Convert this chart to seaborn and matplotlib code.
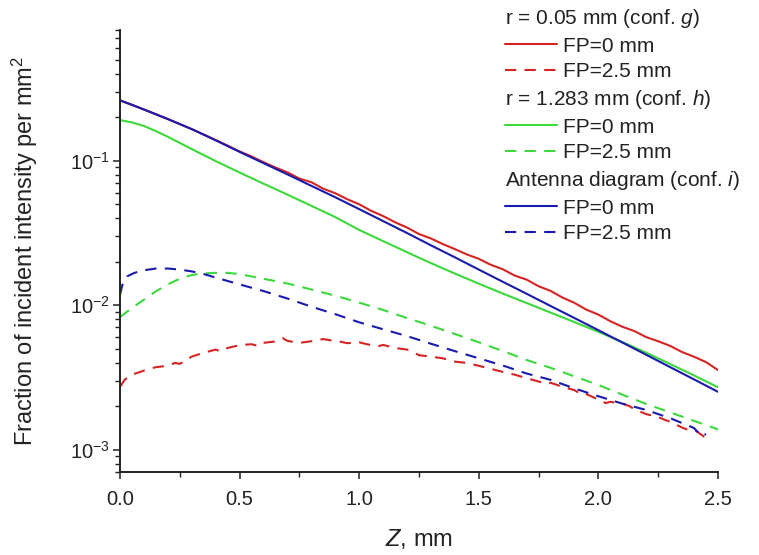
import matplotlib
matplotlib.use("Agg")
import matplotlib.pyplot as plt
from matplotlib.lines import Line2D
from matplotlib.ticker import MultipleLocator, LogLocator, NullFormatter
import numpy as np
import pandas as pd
import seaborn as sns

# ---- data: fraction of incident intensity per mm^2 vs depth Z (mm) ----
z_smooth = [0.0, 0.05, 0.1, 0.15, 0.2, 0.3, 0.4, 0.5, 0.6, 0.7, 0.8, 0.9,
            1.0, 1.1, 1.2, 1.3, 1.4, 1.5, 1.6, 1.7, 1.8, 1.9, 2.0, 2.1, 2.2,
            2.3, 2.4, 2.5]

# antenna diagram (conf. i), FP = 0 mm
antenna_fp0 = [0.261, 0.2428, 0.2255, 0.2090, 0.1936, 0.165, 0.138, 0.1148,
               0.0959, 0.0802, 0.0668, 0.0557, 0.0461, 0.0381, 0.0315, 0.0259,
               0.0214, 0.0176, 0.0145, 0.01197, 0.00986, 0.00813, 0.0067,
               0.00551, 0.00453, 0.00372, 0.00306, 0.00251]

# r = 1.283 mm (conf. h), FP = 0 mm
wide_fp0 = [0.1905, 0.1835, 0.1735, 0.1598, 0.1460, 0.120, 0.0991, 0.0826,
            0.0692, 0.0581, 0.0486, 0.0406, 0.0331, 0.0277, 0.0232, 0.0195,
            0.01652, 0.01406, 0.01202, 0.01033, 0.00887, 0.00762, 0.00653,
            0.00555, 0.00468, 0.00391, 0.00326, 0.0027]

# r = 0.05 mm (conf. g), FP = 0 mm
z_narrow_fp0 = [0.00, 0.05, 0.10, 0.15, 0.20, 0.25, 0.30, 0.35, 0.40, 0.45,
                0.50, 0.55, 0.60, 0.65, 0.70, 0.75, 0.80, 0.85, 0.90, 0.95,
                1.00, 1.05, 1.10, 1.15, 1.20, 1.25, 1.30, 1.35, 1.40, 1.45,
                1.50, 1.55, 1.60, 1.65, 1.70, 1.75, 1.80, 1.85, 1.90, 1.95,
                2.00, 2.05, 2.10, 2.15, 2.20, 2.25, 2.30, 2.35, 2.40, 2.45,
                2.50]
narrow_fp0 = [0.2606, 0.2427, 0.2254, 0.2089, 0.1936, 0.1786, 0.1648, 0.1514,
              0.1387, 0.1268, 0.1156, 0.1067, 0.0973, 0.0895, 0.0828, 0.0750,
              0.0708, 0.0638, 0.0594, 0.0540, 0.0498, 0.0449, 0.0413, 0.0374,
              0.0344, 0.0310, 0.0289, 0.0264, 0.0244, 0.0224, 0.0209, 0.0190,
              0.0177, 0.0160, 0.0150, 0.0135, 0.01253, 0.01127, 0.01035,
              0.00929, 0.00859, 0.00773, 0.00708, 0.00661, 0.00600, 0.00562,
              0.00522, 0.00473, 0.00439, 0.00403, 0.00355]

# r = 1.283 mm (conf. h), FP = 2.5 mm
z_wide_fp25 = [0.0, 0.05, 0.1, 0.15, 0.2, 0.25, 0.3, 0.35, 0.4, 0.45, 0.5,
               0.6, 0.7, 0.8, 0.9, 1.0, 1.1, 1.2, 1.3, 1.4, 1.5, 1.6, 1.7,
               1.8, 1.9, 2.0, 2.1, 2.2, 2.3, 2.4, 2.5]
wide_fp25 = [0.00826, 0.00955, 0.0109, 0.01245, 0.0139, 0.01524, 0.01614,
             0.01656, 0.01671, 0.01671, 0.01637, 0.0152, 0.0141, 0.01282,
             0.01161, 0.0104, 0.00925, 0.00813, 0.00719, 0.00631, 0.00553,
             0.00481, 0.00417, 0.00368, 0.00321, 0.0028, 0.0024, 0.00207,
             0.00181, 0.00158, 0.00138]

# antenna diagram (conf. i), FP = 2.5 mm
z_antenna_fp25 = [0.0, 0.01, 0.03, 0.06, 0.1, 0.15, 0.2, 0.25, 0.3, 0.35,
                  0.4, 0.5, 0.6, 0.7, 0.8, 0.9, 1.0, 1.1, 1.2, 1.3, 1.4, 1.5,
                  1.6, 1.7, 1.8, 1.9, 2.0, 2.1, 2.2, 2.3, 2.4, 2.43, 2.45]
antenna_fp25 = [0.0118, 0.0138, 0.0158, 0.0167, 0.0174, 0.0179, 0.0179,
                0.0176, 0.0171, 0.0164, 0.0155, 0.0139, 0.0125, 0.0111,
                0.00975, 0.00865, 0.0076, 0.0068, 0.0061, 0.0054, 0.0048,
                0.00428, 0.00382, 0.00336, 0.00304, 0.00265, 0.00234,
                0.00208, 0.00188, 0.00165, 0.00141, 0.00124, 0.00128]

# r = 0.05 mm (conf. g), FP = 2.5 mm
z_narrow_fp25 = [0.00, 0.02, 0.05, 0.10, 0.15, 0.20, 0.23, 0.25, 0.30, 0.35,
                 0.40, 0.42, 0.45, 0.50, 0.55, 0.58, 0.60, 0.65, 0.68, 0.70,
                 0.75, 0.80, 0.85, 0.88, 0.90, 0.95, 1.00, 1.05, 1.08, 1.10,
                 1.15, 1.20, 1.22, 1.25, 1.30, 1.35, 1.40, 1.45, 1.50, 1.55,
                 1.60, 1.65, 1.70, 1.75, 1.78, 1.80, 1.85, 1.90, 1.93, 1.95,
                 2.00, 2.03, 2.05, 2.10, 2.13, 2.15, 2.20, 2.25, 2.28, 2.30,
                 2.35, 2.38, 2.40, 2.45]
narrow_fp25 = [0.00272, 0.00305, 0.00330, 0.00352, 0.00372, 0.00380, 0.00398,
               0.00392, 0.00440, 0.00468, 0.00492, 0.00478, 0.00505, 0.00528,
               0.00536, 0.00520, 0.00548, 0.00560, 0.00590, 0.00565, 0.00548,
               0.00562, 0.00582, 0.00570, 0.00568, 0.00545, 0.00552, 0.00528,
               0.00520, 0.00530, 0.00505, 0.00492, 0.00478, 0.00450, 0.00440,
               0.00428, 0.00406, 0.00398, 0.00380, 0.00362, 0.00345, 0.00330,
               0.00312, 0.00296, 0.00285, 0.00290, 0.00272, 0.00258, 0.00240,
               0.00242, 0.00222, 0.00210, 0.00214, 0.00208, 0.00200, 0.00190,
               0.00176, 0.00168, 0.00160, 0.00156, 0.00142, 0.00136, 0.00138,
               0.00120]

legend_labels = ["r = 0.05 mm (conf. $\\mathit{g}$)", "FP=0 mm", "FP=2.5 mm",
                 "r = 1.283 mm (conf. $\\mathit{h}$)", "FP=0 mm", "FP=2.5 mm",
                 "Antenna diagram (conf. $\\mathit{i}$)", "FP=0 mm", "FP=2.5 mm"]
x_ticks = [0.0, 0.5, 1.0, 1.5, 2.0, 2.5]
y_ticks = [1e-3, 1e-2, 1e-1]

# ---- styling ----
RED, GREEN, BLUE = "#d42424", "#3cd83c", "#1a1aac"
LW = 1.5
DASH = (0, (5.4, 4.0))

sns.set_theme(style="ticks")
plt.rcParams["font.family"] = ["Liberation Sans", "DejaVu Sans"]
plt.rcParams["mathtext.fontset"] = "custom"
plt.rcParams["mathtext.rm"] = "Liberation Sans"
plt.rcParams["mathtext.it"] = "Liberation Sans:italic"
plt.rcParams["mathtext.default"] = "regular"
plt.rcParams["axes.unicode_minus"] = False

fig = plt.figure(figsize=(7.59, 5.55), dpi=100)
ax = fig.add_axes([120 / 759, 1 - 472 / 555, 598 / 759, 442 / 555])

series = [
    (z_narrow_fp0, narrow_fp0, RED, "-"),
    (z_narrow_fp25, narrow_fp25, RED, DASH),
    (z_smooth, wide_fp0, GREEN, "-"),
    (z_wide_fp25, wide_fp25, GREEN, DASH),
    (z_smooth, antenna_fp0, BLUE, "-"),
    (z_antenna_fp25, antenna_fp25, BLUE, DASH),
]
for zs, vals, col, ls in series:
    df = pd.DataFrame({"z": zs, "v": vals})
    sns.lineplot(data=df, x="z", y="v", ax=ax, color=col, linewidth=LW,
                 linestyle=ls, sort=False, estimator=None, legend=False)

ax.set_yscale("log")
ax.set_xlim(0, 2.5)
ax.set_ylim(7e-4, 0.8)
ax.set_xticks(x_ticks)
ax.xaxis.set_minor_locator(MultipleLocator(0.25))
ax.set_yticks(y_ticks)
ax.yaxis.set_minor_locator(LogLocator(base=10, subs=np.arange(2, 10)))
ax.yaxis.set_minor_formatter(NullFormatter())

sns.despine(ax=ax)
for s in ("left", "bottom"):
    ax.spines[s].set_linewidth(1.4)
    ax.spines[s].set_color("#222222")
ax.tick_params(which="major", direction="out", length=5, width=1.1,
               labelsize=14.5, color="#222222", labelcolor="#222222")
ax.tick_params(axis="x", which="major", pad=8)
ax.tick_params(axis="y", which="major", pad=2)
ax.tick_params(which="minor", direction="out", length=3.3, width=1.0,
               color="#222222")

ax.set_xlabel("$\\mathit{Z}$, mm", fontsize=17, color="#222222", labelpad=13)
ax.set_ylabel("Fraction of incident intensity per mm$^2$", fontsize=17,
              color="#222222", labelpad=22)

# legend: group headers without a line sample
colors = [None, RED, RED, None, GREEN, GREEN, None, BLUE, BLUE]
styles = [None, "-", DASH, None, "-", DASH, None, "-", DASH]
handles = []
for col, ls in zip(colors, styles):
    if col is None:
        handles.append(Line2D([], [], color="none"))
    else:
        handles.append(Line2D([], [], color=col, linewidth=LW, linestyle=ls))
leg = ax.legend(handles, legend_labels, loc="upper left",
                bbox_to_anchor=(505 / 759, 1 - 7 / 555),
                bbox_transform=fig.transFigure, frameon=False, fontsize=15,
                borderpad=0, borderaxespad=0, handlelength=2.5,
                handletextpad=0.3, labelspacing=0.32)
rows = leg._legend_handle_box.get_children()[0].get_children()
for row, col in zip(rows, colors):
    if col is None:
        del row.get_children()[0]
for t in leg.get_texts():
    t.set_color("#222222")

fig.savefig("out.png", dpi=100)
